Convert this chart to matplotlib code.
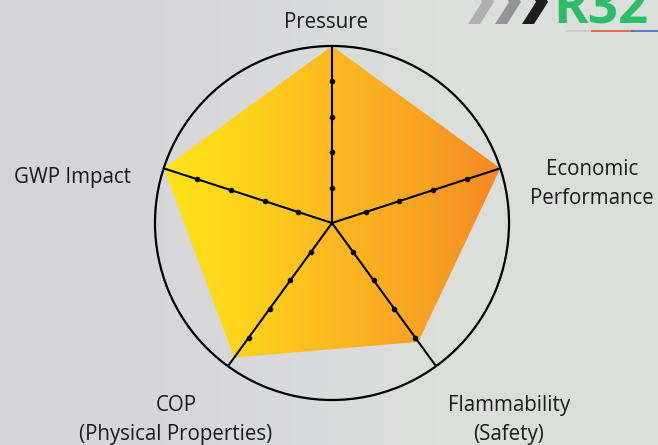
import numpy as np
import matplotlib
matplotlib.use("Agg")
import matplotlib.pyplot as plt
from matplotlib.colors import LinearSegmentedColormap
from matplotlib.patches import Polygon

# ---- data ----
categories = ["Pressure", "Economic\nPerformance", "Flammability\n(Safety)",
              "COP\n(Physical Properties)", "GWP Impact"]
values = [5.0, 5.0, 4.15, 4.7, 5.0]
tick_levels = [1, 2, 3, 4]
r_max = 5

W, H = 658, 445
fig = plt.figure(figsize=(W / 100, H / 100), dpi=100)
plt.rcParams['font.family'] = ['Open Sans', 'DejaVu Sans']

def fx(px):
    return px / W

def fy(py):
    return 1 - py / H

# ---- background ----
bg = fig.add_axes([0, 0, 1, 1], zorder=0)
bg.axis("off")
bg_cmap = LinearSegmentedColormap.from_list("bg", ["#d4d4d8", "#d8d8db", "#dcdedc", "#dddfdd"])
bg.imshow(np.linspace(0, 1, 256)[None, :], cmap=bg_cmap, aspect="auto", extent=[0, 1, 0, 1])
bg.set_xlim(0, 1)
bg.set_ylim(0, 1)

# ---- logo (decorative) ----
for i, c in enumerate(["#b0b0b2", "#949496", "#1e1e1e"]):
    x0 = 466 + i * 27
    pts = [(x0 + 12, -6), (x0 + 24, -6), (x0 + 28, 2), (x0 + 14, 24), (x0 + 2, 24), (x0 + 16, 2)]
    fig.patches.append(Polygon([(fx(a), fy(b)) for a, b in pts], closed=True,
                               transform=fig.transFigure, facecolor=c, edgecolor="none", zorder=1))
fig.text(fx(553), fy(24), "R32", color="#2dbd6a", fontsize=38, fontweight="bold",
         family=["Open Sans", "DejaVu Sans"], ha="left", va="baseline", zorder=2)
fig.lines.append(plt.Line2D([fx(566), fx(592)], [fy(31), fy(31)], transform=fig.transFigure,
                            color="#c9c9c9", lw=1.2, zorder=2))
fig.lines.append(plt.Line2D([fx(592), fx(632)], [fy(31), fy(31)], transform=fig.transFigure,
                            color="#d9573f", lw=1.2, zorder=2))
fig.lines.append(plt.Line2D([fx(632), fx(658)], [fy(31), fy(31)], transform=fig.transFigure,
                            color="#3d6db5", lw=1.2, zorder=2))

# ---- radar axes ----
cx, cy, rad = 332, 223, 177
ax = fig.add_axes([fx(cx - rad), fy(cy + rad), (2 * rad) / W, (2 * rad) / H],
                  projection="polar", zorder=3)
ax.set_facecolor("none")
ax.set_theta_offset(np.pi / 2)
ax.set_theta_direction(-1)
ax.set_ylim(0, r_max)
ax.grid(False)
ax.set_xticks([])
ax.set_yticks([])
ax.spines["polar"].set_color("black")
ax.spines["polar"].set_linewidth(1.6)

n = len(categories)
angles = np.arange(n) * 2 * np.pi / n
th = np.concatenate([angles, angles[:1]])
rv = np.concatenate([values, values[:1]])

# polygon (used as clip path for gradient)
poly = ax.fill(th, rv, facecolor="none", edgecolor="none")[0]

grad_cmap = LinearSegmentedColormap.from_list(
    "grad", ["#ffe31a", "#ffd11c", "#fdb922", "#f9a524", "#f48a20"])
gim = fig.add_axes(ax.get_position(), zorder=2.9)
gim.axis("off")
img = gim.imshow(np.linspace(0, 1, 512)[None, :], cmap=grad_cmap, aspect="auto",
                 extent=[0.03, 0.97, 0, 1])
gim.set_xlim(0, 1)
gim.set_ylim(0, 1)
img.set_clip_path(poly)

# axis spokes with tick dots
for a in angles:
    ax.plot([a, a], [0, r_max], color="black", lw=1.5, solid_capstyle="butt", zorder=5)
    ax.plot([a] * len(tick_levels), tick_levels, linestyle="none", marker="o",
            markersize=3.0, color="black", zorder=6)

# ---- labels ----
label_pos = [(326, 22), (592, 184), (509, 420), (176, 420), (72, 177)]
for lab, (px, py) in zip(categories, label_pos):
    fig.text(fx(px), fy(py), lab, ha="center", va="center", fontsize=14.8,
             color="#1a1a1a", linespacing=1.45, zorder=10)

fig.savefig("out.png", dpi=100)
